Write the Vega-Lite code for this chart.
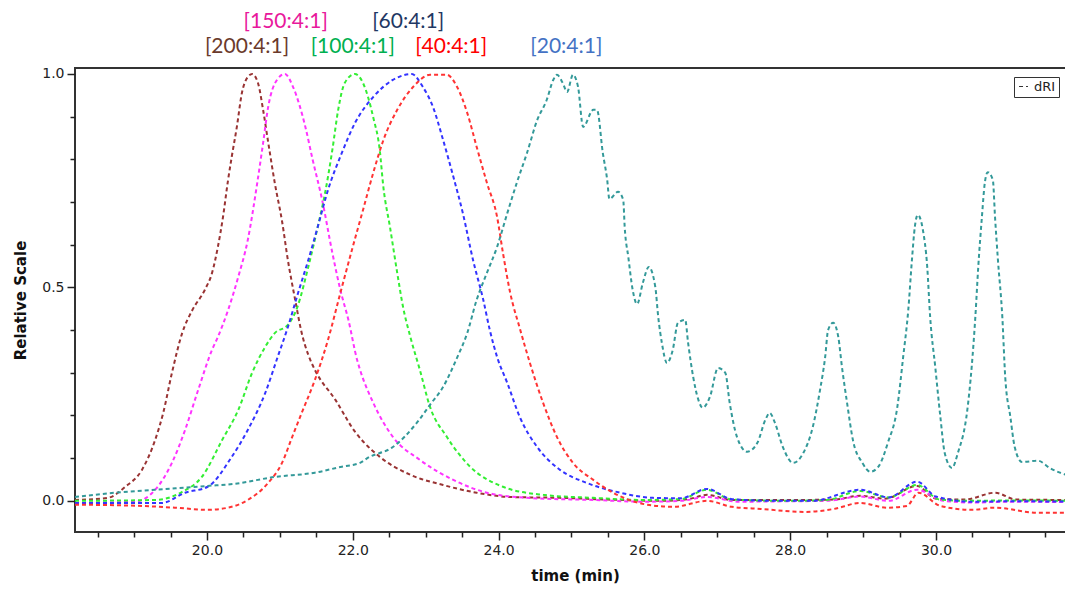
{
  "$schema": "https://vega.github.io/schema/vega-lite/v6.json",
  "width": 1000,
  "height": 464,
  "autosize": "none",
  "padding": {"left": 75, "top": 68, "right": 0, "bottom": 57},
  "background": "white",
  "config": {
    "view": {"stroke": "#333", "strokeWidth": 2},
    "axis": {"grid": false, "domain": false, "tickColor": "#222", "tickWidth": 1.5, "labelFont": "DejaVu Sans", "labelFontSize": 14, "labelColor": "#222", "titleFont": "DejaVu Sans", "titleFontWeight": "bold", "titleFontSize": 15, "titleColor": "#111"}
  },
  "datasets": {
    "labels": [
      {"label": "[150:4:1]", "t": 21.08, "v": 1.122},
      {"label": "[60:4:1]", "t": 22.76, "v": 1.122},
      {"label": "[200:4:1]", "t": 20.55, "v": 1.063},
      {"label": "[100:4:1]", "t": 22.0, "v": 1.063},
      {"label": "[40:4:1]", "t": 23.35, "v": 1.063},
      {"label": "[20:4:1]", "t": 24.93, "v": 1.063}
    ],
    "curves": [
      {"s":"200","t":18.19,"v":0.002},{"s":"200","t":18.64,"v":0.007},{"s":"200","t":18.88,"v":0.033},{"s":"200","t":19.11,"v":0.073},{"s":"200","t":19.29,"v":0.143},{"s":"200","t":19.40,"v":0.206},{"s":"200","t":19.52,"v":0.300},{"s":"200","t":19.66,"v":0.393},{"s":"200","t":19.80,"v":0.447},{"s":"200","t":19.97,"v":0.494},{"s":"200","t":20.07,"v":0.534},{"s":"200","t":20.15,"v":0.595},{"s":"200","t":20.22,"v":0.665},{"s":"200","t":20.29,"v":0.752},{"s":"200","t":20.34,"v":0.806},{"s":"200","t":20.41,"v":0.876},{"s":"200","t":20.48,"v":0.956},{"s":"200","t":20.56,"v":0.993},{"s":"200","t":20.62,"v":1.0},{"s":"200","t":20.70,"v":0.979},{"s":"200","t":20.77,"v":0.916},{"s":"200","t":20.84,"v":0.840},{"s":"200","t":20.93,"v":0.745},{"s":"200","t":21.03,"v":0.655},{"s":"200","t":21.11,"v":0.564},{"s":"200","t":21.21,"v":0.471},{"s":"200","t":21.30,"v":0.393},{"s":"200","t":21.39,"v":0.342},{"s":"200","t":21.48,"v":0.307},{"s":"200","t":21.76,"v":0.237},{"s":"200","t":22.03,"v":0.162},{"s":"200","t":22.26,"v":0.119},{"s":"200","t":22.37,"v":0.103},{"s":"200","t":22.79,"v":0.061},{"s":"200","t":23.24,"v":0.037},{"s":"200","t":23.70,"v":0.019},{"s":"200","t":24.16,"v":0.009},{"s":"200","t":24.84,"v":0.007},{"s":"200","t":25.5,"v":0.003},{"s":"200","t":26.2,"v":0.0},{"s":"200","t":26.6,"v":0.004},{"s":"200","t":26.86,"v":0.014},{"s":"200","t":27.2,"v":0.002},{"s":"200","t":28.0,"v":0.002},{"s":"200","t":28.6,"v":0.003},{"s":"200","t":28.96,"v":0.012},{"s":"200","t":29.3,"v":0.005},{"s":"200","t":29.74,"v":0.035},{"s":"200","t":30.0,"v":0.005},{"s":"200","t":30.4,"v":0.003},{"s":"200","t":30.81,"v":0.019},{"s":"200","t":31.1,"v":0.003},{"s":"200","t":31.9,"v":0.002},
      {"s":"150","t":18.19,"v":-0.005},{"s":"150","t":19.01,"v":-0.002},{"s":"150","t":19.29,"v":0.026},{"s":"150","t":19.52,"v":0.089},{"s":"150","t":19.70,"v":0.166},{"s":"150","t":19.88,"v":0.260},{"s":"150","t":20.07,"v":0.354},{"s":"150","t":20.15,"v":0.384},{"s":"150","t":20.29,"v":0.447},{"s":"150","t":20.43,"v":0.525},{"s":"150","t":20.56,"v":0.611},{"s":"150","t":20.69,"v":0.745},{"s":"150","t":20.77,"v":0.838},{"s":"150","t":20.84,"v":0.923},{"s":"150","t":20.96,"v":0.986},{"s":"150","t":21.07,"v":1.0},{"s":"150","t":21.18,"v":0.970},{"s":"150","t":21.35,"v":0.876},{"s":"150","t":21.45,"v":0.799},{"s":"150","t":21.58,"v":0.705},{"s":"150","t":21.72,"v":0.581},{"s":"150","t":21.83,"v":0.494},{"s":"150","t":21.94,"v":0.424},{"s":"150","t":22.06,"v":0.330},{"s":"150","t":22.10,"v":0.307},{"s":"150","t":22.28,"v":0.230},{"s":"150","t":22.55,"v":0.150},{"s":"150","t":22.92,"v":0.096},{"s":"150","t":23.38,"v":0.049},{"s":"150","t":23.84,"v":0.019},{"s":"150","t":24.39,"v":0.007},{"s":"150","t":25.30,"v":0.002},{"s":"150","t":26.0,"v":-0.002},{"s":"150","t":26.5,"v":0.0},{"s":"150","t":26.86,"v":0.009},{"s":"150","t":27.3,"v":-0.002},{"s":"150","t":28.0,"v":-0.001},{"s":"150","t":28.5,"v":0.0},{"s":"150","t":28.96,"v":0.01},{"s":"150","t":29.35,"v":0.0},{"s":"150","t":29.74,"v":0.026},{"s":"150","t":30.1,"v":0.0},{"s":"150","t":30.5,"v":-0.004},{"s":"150","t":31.0,"v":-0.002},{"s":"150","t":31.9,"v":-0.003},
      {"s":"100","t":18.19,"v":0.0},{"s":"100","t":19.29,"v":0.002},{"s":"100","t":19.66,"v":0.021},{"s":"100","t":19.93,"v":0.056},{"s":"100","t":20.21,"v":0.143},{"s":"100","t":20.43,"v":0.213},{"s":"100","t":20.62,"v":0.300},{"s":"100","t":20.80,"v":0.361},{"s":"100","t":20.93,"v":0.393},{"s":"100","t":21.11,"v":0.412},{"s":"100","t":21.24,"v":0.454},{"s":"100","t":21.39,"v":0.548},{"s":"100","t":21.52,"v":0.642},{"s":"100","t":21.62,"v":0.721},{"s":"100","t":21.72,"v":0.822},{"s":"100","t":21.80,"v":0.916},{"s":"100","t":21.89,"v":0.979},{"s":"100","t":22.03,"v":1.0},{"s":"100","t":22.14,"v":0.979},{"s":"100","t":22.28,"v":0.899},{"s":"100","t":22.37,"v":0.822},{"s":"100","t":22.42,"v":0.735},{"s":"100","t":22.51,"v":0.642},{"s":"100","t":22.61,"v":0.534},{"s":"100","t":22.69,"v":0.454},{"s":"100","t":22.79,"v":0.384},{"s":"100","t":22.92,"v":0.307},{"s":"100","t":23.06,"v":0.220},{"s":"100","t":23.29,"v":0.150},{"s":"100","t":23.61,"v":0.080},{"s":"100","t":24.06,"v":0.033},{"s":"100","t":24.61,"v":0.014},{"s":"100","t":25.30,"v":0.007},{"s":"100","t":26.0,"v":0.002},{"s":"100","t":26.5,"v":0.004},{"s":"100","t":26.86,"v":0.026},{"s":"100","t":27.2,"v":0.003},{"s":"100","t":28.0,"v":0.0},{"s":"100","t":28.5,"v":0.002},{"s":"100","t":28.96,"v":0.023},{"s":"100","t":29.35,"v":0.008},{"s":"100","t":29.74,"v":0.037},{"s":"100","t":30.05,"v":0.003},{"s":"100","t":30.5,"v":0.0},{"s":"100","t":31.0,"v":0.001},{"s":"100","t":31.9,"v":0.0},
      {"s":"60","t":18.19,"v":-0.005},{"s":"60","t":19.38,"v":-0.005},{"s":"60","t":19.70,"v":0.019},{"s":"60","t":20.01,"v":0.033},{"s":"60","t":20.34,"v":0.103},{"s":"60","t":20.56,"v":0.166},{"s":"60","t":20.80,"v":0.253},{"s":"60","t":20.97,"v":0.337},{"s":"60","t":21.11,"v":0.407},{"s":"60","t":21.25,"v":0.487},{"s":"60","t":21.39,"v":0.564},{"s":"60","t":21.52,"v":0.642},{"s":"60","t":21.66,"v":0.728},{"s":"60","t":21.85,"v":0.815},{"s":"60","t":22.03,"v":0.885},{"s":"60","t":22.28,"v":0.946},{"s":"60","t":22.55,"v":0.986},{"s":"60","t":22.81,"v":1.0},{"s":"60","t":22.96,"v":0.970},{"s":"60","t":23.10,"v":0.923},{"s":"60","t":23.24,"v":0.845},{"s":"60","t":23.38,"v":0.759},{"s":"60","t":23.51,"v":0.674},{"s":"60","t":23.65,"v":0.564},{"s":"60","t":23.79,"v":0.471},{"s":"60","t":23.88,"v":0.400},{"s":"60","t":23.98,"v":0.337},{"s":"60","t":24.12,"v":0.276},{"s":"60","t":24.29,"v":0.197},{"s":"60","t":24.53,"v":0.126},{"s":"60","t":24.84,"v":0.073},{"s":"60","t":25.21,"v":0.042},{"s":"60","t":25.67,"v":0.019},{"s":"60","t":26.12,"v":0.007},{"s":"60","t":26.5,"v":0.006},{"s":"60","t":26.86,"v":0.028},{"s":"60","t":27.2,"v":0.004},{"s":"60","t":27.8,"v":0.0},{"s":"60","t":28.3,"v":0.0},{"s":"60","t":28.96,"v":0.026},{"s":"60","t":29.35,"v":0.008},{"s":"60","t":29.74,"v":0.045},{"s":"60","t":30.0,"v":0.01},{"s":"60","t":30.5,"v":-0.002},{"s":"60","t":31.0,"v":-0.001},{"s":"60","t":31.9,"v":-0.002},
      {"s":"40","t":18.19,"v":-0.009},{"s":"40","t":19.11,"v":-0.012},{"s":"40","t":19.56,"v":-0.016},{"s":"40","t":20.01,"v":-0.021},{"s":"40","t":20.29,"v":-0.016},{"s":"40","t":20.56,"v":0.002},{"s":"40","t":20.84,"v":0.042},{"s":"40","t":21.03,"v":0.089},{"s":"40","t":21.17,"v":0.150},{"s":"40","t":21.30,"v":0.206},{"s":"40","t":21.48,"v":0.283},{"s":"40","t":21.66,"v":0.377},{"s":"40","t":21.83,"v":0.487},{"s":"40","t":22.00,"v":0.595},{"s":"40","t":22.14,"v":0.681},{"s":"40","t":22.28,"v":0.768},{"s":"40","t":22.42,"v":0.845},{"s":"40","t":22.61,"v":0.916},{"s":"40","t":22.83,"v":0.970},{"s":"40","t":23.06,"v":0.998},{"s":"40","t":23.29,"v":0.998},{"s":"40","t":23.43,"v":0.970},{"s":"40","t":23.57,"v":0.909},{"s":"40","t":23.70,"v":0.829},{"s":"40","t":23.84,"v":0.745},{"s":"40","t":23.98,"v":0.665},{"s":"40","t":24.06,"v":0.581},{"s":"40","t":24.16,"v":0.487},{"s":"40","t":24.29,"v":0.405},{"s":"40","t":24.43,"v":0.323},{"s":"40","t":24.61,"v":0.230},{"s":"40","t":24.80,"v":0.150},{"s":"40","t":25.02,"v":0.089},{"s":"40","t":25.30,"v":0.049},{"s":"40","t":25.57,"v":0.019},{"s":"40","t":26.04,"v":-0.009},{"s":"40","t":26.4,"v":-0.014},{"s":"40","t":26.86,"v":0.0},{"s":"40","t":27.2,"v":-0.014},{"s":"40","t":27.6,"v":-0.019},{"s":"40","t":28.2,"v":-0.026},{"s":"40","t":28.6,"v":-0.019},{"s":"40","t":28.96,"v":-0.005},{"s":"40","t":29.33,"v":-0.016},{"s":"40","t":29.6,"v":-0.012},{"s":"40","t":29.76,"v":0.019},{"s":"40","t":30.06,"v":-0.012},{"s":"40","t":30.5,"v":-0.021},{"s":"40","t":30.8,"v":-0.016},{"s":"40","t":31.4,"v":-0.028},{"s":"40","t":31.9,"v":-0.028},
      {"s":"20","t":18.19,"v":0.009},{"s":"20","t":18.46,"v":0.014},{"s":"20","t":18.74,"v":0.019},{"s":"20","t":19.29,"v":0.026},{"s":"20","t":20.01,"v":0.035},{"s":"20","t":20.38,"v":0.040},{"s":"20","t":20.93,"v":0.056},{"s":"20","t":21.48,"v":0.066},{"s":"20","t":21.85,"v":0.080},{"s":"20","t":22.10,"v":0.089},{"s":"20","t":22.21,"v":0.101},{"s":"20","t":22.55,"v":0.126},{"s":"20","t":22.88,"v":0.183},{"s":"20","t":23.06,"v":0.225},{"s":"20","t":23.24,"v":0.267},{"s":"20","t":23.43,"v":0.335},{"s":"20","t":23.57,"v":0.393},{"s":"20","t":23.70,"v":0.471},{"s":"20","t":23.84,"v":0.534},{"s":"20","t":23.98,"v":0.595},{"s":"20","t":24.12,"v":0.674},{"s":"20","t":24.25,"v":0.745},{"s":"20","t":24.39,"v":0.815},{"s":"20","t":24.53,"v":0.892},{"s":"20","t":24.66,"v":0.939},{"s":"20","t":24.75,"v":0.986},{"s":"20","t":24.80,"v":0.998},{"s":"20","t":24.88,"v":0.979},{"s":"20","t":24.94,"v":0.958},{"s":"20","t":25.02,"v":0.998},{"s":"20","t":25.09,"v":0.970},{"s":"20","t":25.16,"v":0.876},{"s":"20","t":25.30,"v":0.916},{"s":"20","t":25.35,"v":0.916},{"s":"20","t":25.43,"v":0.815},{"s":"20","t":25.49,"v":0.752},{"s":"20","t":25.52,"v":0.707},{"s":"20","t":25.64,"v":0.724},{"s":"20","t":25.71,"v":0.705},{"s":"20","t":25.73,"v":0.642},{"s":"20","t":25.78,"v":0.571},{"s":"20","t":25.84,"v":0.494},{"s":"20","t":25.90,"v":0.461},{"s":"20","t":25.98,"v":0.511},{"s":"20","t":26.06,"v":0.548},{"s":"20","t":26.15,"v":0.501},{"s":"20","t":26.19,"v":0.431},{"s":"20","t":26.24,"v":0.370},{"s":"20","t":26.31,"v":0.323},{"s":"20","t":26.39,"v":0.354},{"s":"20","t":26.46,"v":0.417},{"s":"20","t":26.56,"v":0.424},{"s":"20","t":26.60,"v":0.370},{"s":"20","t":26.67,"v":0.290},{"s":"20","t":26.74,"v":0.237},{"s":"20","t":26.80,"v":0.218},{"s":"20","t":26.90,"v":0.244},{"s":"20","t":27.01,"v":0.311},{"s":"20","t":27.11,"v":0.300},{"s":"20","t":27.17,"v":0.230},{"s":"20","t":27.27,"v":0.150},{"s":"20","t":27.41,"v":0.115},{"s":"20","t":27.55,"v":0.136},{"s":"20","t":27.66,"v":0.190},{"s":"20","t":27.72,"v":0.206},{"s":"20","t":27.79,"v":0.183},{"s":"20","t":27.90,"v":0.126},{"s":"20","t":28.04,"v":0.089},{"s":"20","t":28.18,"v":0.112},{"s":"20","t":28.31,"v":0.173},{"s":"20","t":28.41,"v":0.260},{"s":"20","t":28.48,"v":0.337},{"s":"20","t":28.52,"v":0.400},{"s":"20","t":28.59,"v":0.417},{"s":"20","t":28.66,"v":0.384},{"s":"20","t":28.71,"v":0.314},{"s":"20","t":28.78,"v":0.230},{"s":"20","t":28.86,"v":0.143},{"s":"20","t":28.99,"v":0.089},{"s":"20","t":29.10,"v":0.068},{"s":"20","t":29.21,"v":0.080},{"s":"20","t":29.34,"v":0.136},{"s":"20","t":29.47,"v":0.220},{"s":"20","t":29.55,"v":0.337},{"s":"20","t":29.62,"v":0.447},{"s":"20","t":29.67,"v":0.564},{"s":"20","t":29.71,"v":0.642},{"s":"20","t":29.75,"v":0.670},{"s":"20","t":29.82,"v":0.635},{"s":"20","t":29.88,"v":0.548},{"s":"20","t":29.92,"v":0.431},{"s":"20","t":29.99,"v":0.314},{"s":"20","t":30.06,"v":0.197},{"s":"20","t":30.12,"v":0.112},{"s":"20","t":30.22,"v":0.077},{"s":"20","t":30.30,"v":0.112},{"s":"20","t":30.43,"v":0.213},{"s":"20","t":30.49,"v":0.314},{"s":"20","t":30.54,"v":0.431},{"s":"20","t":30.58,"v":0.548},{"s":"20","t":30.63,"v":0.665},{"s":"20","t":30.67,"v":0.745},{"s":"20","t":30.71,"v":0.770},{"s":"20","t":30.78,"v":0.752},{"s":"20","t":30.81,"v":0.665},{"s":"20","t":30.85,"v":0.564},{"s":"20","t":30.91,"v":0.431},{"s":"20","t":30.95,"v":0.290},{"s":"20","t":31.02,"v":0.197},{"s":"20","t":31.08,"v":0.126},{"s":"20","t":31.18,"v":0.091},{"s":"20","t":31.40,"v":0.094},{"s":"20","t":31.56,"v":0.077},{"s":"20","t":31.70,"v":0.066},{"s":"20","t":31.9,"v":0.056}
    ]
  },
  "layer": [
    {
      "data": {"name": "curves"},
      "mark": {"type": "line", "strokeWidth": 2, "interpolate": "monotone", "clip": true},
      "encoding": {
        "x": {"field": "t", "type": "quantitative", "scale": {"domain": [18.19, 31.907], "nice": false, "zero": false},
          "axis": {"orient": "bottom", "values": [20, 22, 24, 26, 28, 30], "format": ".1f", "tickSize": 8, "labelPadding": 3, "title": "time (min)", "titlePadding": 11}},
        "y": {"field": "v", "type": "quantitative", "scale": {"domain": [-0.073, 1.014], "nice": false, "zero": false},
          "axis": {"orient": "left", "values": [0, 0.5, 1], "format": ".1f", "tickSize": 8, "labelPadding": 3, "title": "Relative Scale", "titlePadding": 13}},
        "color": {"field": "s", "type": "nominal", "sort": null,
          "scale": {"domain": ["200", "150", "100", "60", "40", "20"], "range": ["#993333", "#ff33ff", "#33ee33", "#3333ff", "#ff3333", "#339999"]},
          "legend": null},
        "strokeDash": {"datum": "dRI", "type": "nominal", "scale": {"range": [[4, 3]]},
          "legend": {"orient": "none", "legendX": 939, "legendY": 9, "title": null, "strokeColor": "#333", "fillColor": "white", "padding": 3,
            "labelFont": "DejaVu Sans", "labelFontSize": 13, "labelColor": "#222", "symbolStrokeColor": "#333", "symbolStrokeWidth": 1.2,
            "symbolSize": 80, "symbolDash": [2.5, 2], "labelOffset": 4}}
      }
    },
    {
      "data": {"name": "labels"},
      "mark": {"type": "text", "font": "Lato", "fontSize": 21, "baseline": "middle", "align": "center"},
      "encoding": {
        "x": {"field": "t", "type": "quantitative", "scale": {"domain": [18.19, 31.907], "nice": false, "zero": false},
          "axis": {"orient": "bottom", "values": [18.5, 19, 19.5, 20.5, 21, 21.5, 22.5, 23, 23.5, 24.5, 25, 25.5, 26.5, 27, 27.5, 28.5, 29, 29.5, 30.5, 31, 31.5], "tickSize": 5, "labels": false, "title": null}},
        "y": {"field": "v", "type": "quantitative", "scale": {"domain": [-0.073, 1.014], "nice": false, "zero": false},
          "axis": {"orient": "left", "values": [0.1, 0.2, 0.3, 0.4, 0.6, 0.7, 0.8, 0.9], "tickSize": 5, "labels": false, "title": null}},
        "text": {"field": "label"},
        "color": {"field": "label", "type": "nominal",
          "scale": {"domain": ["[150:4:1]", "[60:4:1]", "[200:4:1]", "[100:4:1]", "[40:4:1]", "[20:4:1]"], "range": ["#e8199c", "#1f3864", "#6b3a2c", "#00b050", "#ff0000", "#4472c4"]},
          "legend": null}
      }
    }
  ],
  "resolve": {"scale": {"x": "independent", "y": "independent", "color": "independent"}, "axis": {"x": "independent", "y": "independent"}}
}
